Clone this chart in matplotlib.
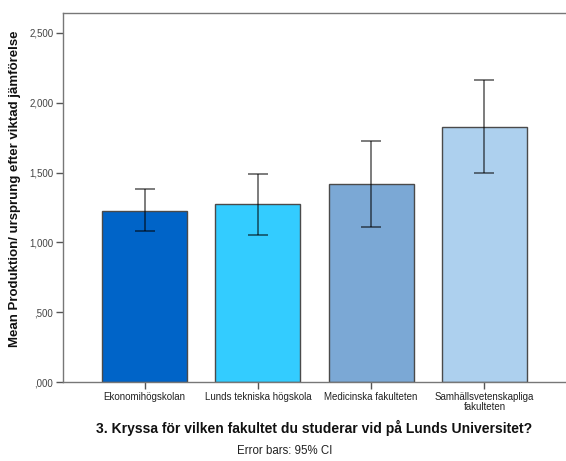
import matplotlib
matplotlib.use("Agg")
import matplotlib.pyplot as plt
import numpy as np

categories = ["Ekonomihögskolan", "Lunds tekniska högskola", "Medicinska fakulteten",
              "Samhällsvetenskapliga\nfakulteten"]
means = [1.227, 1.273, 1.418, 1.829]
ci_low = [1.082, 1.055, 1.113, 1.497]
ci_high = [1.380, 1.492, 1.726, 2.161]
colors = ["#0064C8", "#33CCFF", "#7BA8D5", "#ADD0EE"]
yticks = [0, 0.5, 1.0, 1.5, 2.0, 2.5]
ytick_labels = [",000", ",500", "1,000", "1,500", "2,000", "2,500"]

plt.rcParams['font.family'] = ['Liberation Sans', 'DejaVu Sans']

fig = plt.figure(figsize=(5.66, 4.61), dpi=100)
ax = fig.add_axes([63/566, 79/461, 503/566, 369/461])

x = np.arange(len(categories))
ax.bar(x, means, width=0.75, color=colors, edgecolor="#4a4a4a", linewidth=1.0, zorder=2)
yerr = np.array([np.array(means) - np.array(ci_low), np.array(ci_high) - np.array(means)])
ax.errorbar(x, means, yerr=yerr, fmt='none', ecolor=(0, 0, 0, 0.6), elinewidth=1.2,
            capsize=7.5, capthick=1.2, zorder=3)

ax.set_xlim(-0.72, 3.72)
ax.set_ylim(0, 2.643)
ax.set_yticks(yticks)
ax.set_yticklabels(ytick_labels, fontsize=7, color="#444444")
ax.set_xticks(x)
ax.set_xticklabels(categories, fontsize=7, color="#222222", linespacing=1.0)
ax.tick_params(axis='both', direction='out', length=5, width=1, color="#555555", pad=2)

for s in ['left', 'bottom', 'top']:
    ax.spines[s].set_color("#777777")
    ax.spines[s].set_linewidth(1.0)
ax.spines['right'].set_visible(False)

fig.text(15/566, (461-189)/461, "Mean Produktion/ ursprung efter viktad jämförelse",
         rotation=90, ha='center', va='center', fontsize=9.5, fontweight='bold', color="#111111")
fig.text(314/566, (461-428)/461, "3. Kryssa för vilken fakultet du studerar vid på Lunds Universitet?",
         ha='center', va='center', fontsize=10, fontweight='bold', color="#111111")
fig.text(285/566, (461-451)/461, "Error bars: 95% CI", ha='center', va='center',
         fontsize=8.3, color="#222222")

fig.savefig("out.png", dpi=100)
